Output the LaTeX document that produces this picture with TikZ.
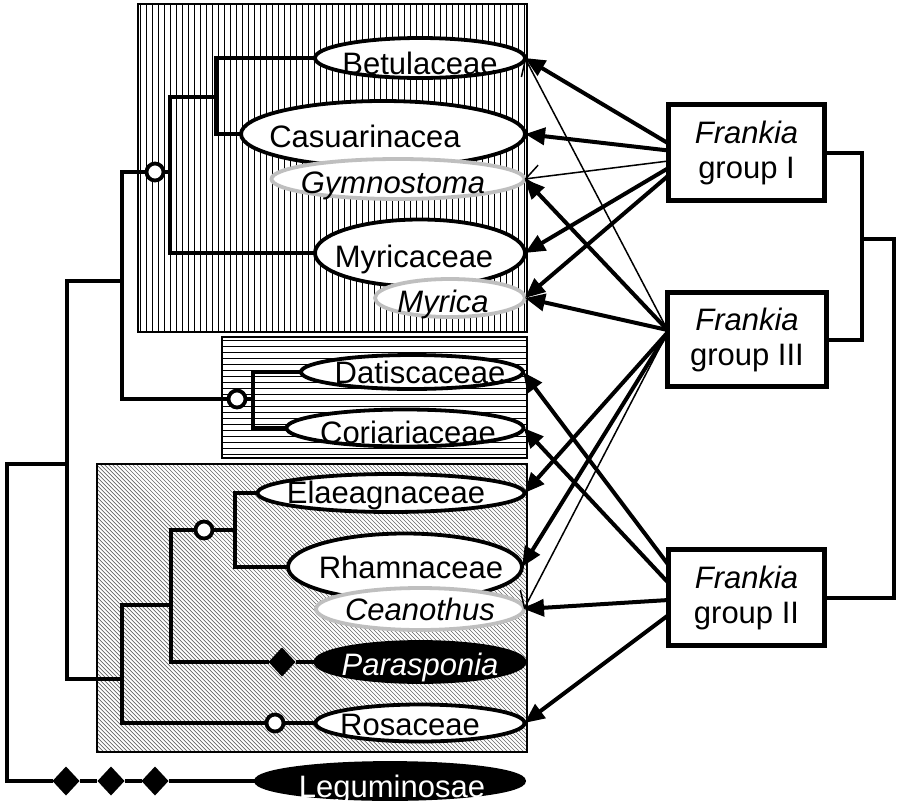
\documentclass[tikz,border=0pt]{standalone}
\usepackage{fontspec}
\setmainfont{Liberation Sans}
\usetikzlibrary{arrows.meta,shapes.geometric}
\begin{document}
\begin{tikzpicture}[x=1pt,y=-1pt,
  tree/.style={line width=4pt,black},
  fam/.style={ellipse,draw=black,line width=3.8pt,fill=white,inner sep=0pt,outer sep=0pt},
  genus/.style={fam,draw=black!25},
  nfix/.style={fam,fill=black},
  lbl/.style={font=\fontsize{31}{35}\selectfont,inner sep=0pt,anchor=base},
  grp/.style={draw,line width=4.2pt,fill=white,inner sep=0pt,outer sep=0pt,align=center,
    font=\fontsize{31}{35}\selectfont},
  anc/.style={circle,draw,line width=3.8pt,fill=white,minimum size=17pt,inner sep=0pt,outer sep=0pt},
  gain/.style={diamond,fill=black,minimum width=27pt,minimum height=29pt,inner sep=0pt,outer sep=0pt},
  strong/.style={line width=4pt,-{Triangle[length=20pt,width=17pt]}},
  weak/.style={line width=1.5pt,-{Straight Barb[length=14pt,width=24pt,line width=1.5pt]}},
  hatchline/.style={line width=0.9pt,black},
  diagline/.style={line width=0.7pt,black!60},
  panel/.style={line width=1.8pt,black}]
\useasboundingbox (0,0) rectangle (897,806);

% hatched panels
\begin{scope}
  \clip (138,4) rectangle (527,332);
  \foreach \x in {140,146,...,530} \draw[hatchline] (\x,4) -- (\x,332);
\end{scope}
\draw[panel] (138,4) rectangle (527,332);

\begin{scope}
  \clip (222,337) rectangle (527,458);
  \foreach \y in {340,346,...,460} \draw[hatchline] (222,\y) -- (527,\y);
\end{scope}
\draw[panel] (222,337) rectangle (527,458);

\begin{scope}
  \clip (97,464) rectangle (527,752);
  \foreach \x in {-204,-200,...,530} \draw[diagline] (\x,464) -- ({\x+300},764);
\end{scope}
\draw[panel] (97,464) rectangle (527,752);

% taxa
\node[fam,minimum width=210pt,minimum height=40pt] (bet) at (420,58) {};
\node[fam,minimum width=284pt,minimum height=66pt] (cas) at (383,134) {};
\node[genus,minimum width=253pt,minimum height=40pt] (gym) at (398,179) {};
\node[fam,minimum width=210pt,minimum height=67pt] (myr) at (420,253) {};
\node[genus,minimum width=150pt,minimum height=38pt] (myc) at (450,298) {};
\node[fam,minimum width=222pt,minimum height=34pt] (dat) at (412,372) {};
\node[fam,minimum width=237pt,minimum height=37pt] (cor) at (405,428) {};
\node[fam,minimum width=267pt,minimum height=38pt] (ela) at (391,493) {};
\node[fam,minimum width=234pt,minimum height=67pt] (rha) at (405,567) {};
\node[genus,minimum width=208pt,minimum height=42pt] (cea) at (420,609) {};
\node[nfix,minimum width=209pt,minimum height=40pt] (par) at (420,662) {};
\node[fam,minimum width=209pt,minimum height=37pt] (ros) at (420,723) {};
\node[nfix,minimum width=268pt,minimum height=36pt] (leg) at (390,781) {};

\node[lbl] (tbet) at (420,74) {Betulaceae};
\node[lbl] (tcas) at (365,147) {Casuarinacea};
\node[lbl] (tgym) at (393,193) {\itshape Gymnostoma};
\node[lbl] (tmyr) at (414,267) {Myricaceae};
\node[lbl] (tmyc) at (443,312) {\itshape Myrica};
\node[lbl] (tdat) at (420,383) {Datiscaceae};
\node[lbl] (tcor) at (408,443) {Coriariaceae};
\node[lbl] (tela) at (386,503) {Elaeagnaceae};
\node[lbl] (trha) at (411,578) {Rhamnaceae};
\node[lbl] (tcea) at (420,620) {\itshape Ceanothus};
\node[lbl,text=white] (tpar) at (420,675) {\itshape Parasponia};
\node[lbl] (tros) at (410,735) {Rosaceae};
\node[lbl,text=white] (tleg) at (392,797) {Leguminosae};

% tree
\coordinate (j1) at (216,97);
\coordinate (j2) at (170,172);
\coordinate (j3) at (122,281);
\coordinate (j4) at (253,399);
\coordinate (j5) at (67,464);
\coordinate (j6) at (122,679);
\coordinate (j7) at (171,605);
\coordinate (j8) at (235,530);
\coordinate (j9) at (7,464);

\node[anc] (c1) at (155,172) {};
\node[anc] (c2) at (237,399) {};
\node[anc] (c3) at (204,530) {};
\node[anc] (c4) at (275,723) {};
\node[gain] (d0) at (282,662) {};
\node[gain] (d1) at (66,781) {};
\node[gain] (d2) at (111,781) {};
\node[gain] (d3) at (155,781) {};

\draw[tree] (bet.west) -| (j1) |- (cas.west);
\draw[tree] (j1) -| (j2) |- (myr.west);
\draw[tree] (c1) -- (j2);
\draw[tree] (c1.west) -| (j3) |- (c2.west);
\draw[tree] (c2) -- (j4);
\draw[tree] (dat.west) -| (j4) |- (cor.west);
\draw[tree] (j3) -| (j5) |- (j6);
\draw[tree] (j5) -- (j9) |- (d1.west);
\draw[tree] (d1) -- (d2);
\draw[tree] (d2) -- (d3);
\draw[tree] (d3) -- (leg.west);
\draw[tree] (j7) -| (j6) |- (c4.west);
\draw[tree] (c4) -- (ros.west);
\draw[tree] (c3.west) -| (j7) |- (d0.west);
\draw[tree] (d0) -- (par.west);
\draw[tree] (c3) -- (j8);
\draw[tree] (ela.west) -| (j8) |- (rha.west);

% Frankia groups
\node[grp,minimum width=156pt,minimum height=96pt] (g1) at (746.5,152.5) {\itshape Frankia\\group I};
\node[grp,minimum width=159pt,minimum height=94pt] (g3) at (747,339.5) {\itshape Frankia\\group III};
\node[grp,minimum width=156pt,minimum height=96pt] (g2) at (746.5,597.5) {\itshape Frankia\\group II};

\coordinate (b1) at (862,239);
\coordinate (b2) at (894,239);
\draw[tree] (g1.east) -- ++(37,0) |- (g3.east);
\draw[tree] (b1) -- (b2) |- (g2.east);

% host specificity arrows
\draw[strong] ([yshift=9pt]g1.west) -- (bet.east);
\draw[strong] ([yshift=2pt]g1.west) -- (cas.east);
\draw[weak] ([yshift=-8.5pt]g1.west) -- (gym.east);
\draw[strong] ([yshift=-15.5pt]g1.west) -- (myr.east);
\draw[strong] ([yshift=-23pt]g1.west) -- (myc.east);
\draw[weak] ([yshift=9.5pt]g3.west) -- (bet.east);
\draw[strong] ([yshift=9.5pt]g3.west) -- (gym.east);
\draw[strong] ([yshift=9.5pt]g3.west) -- (myc.east);
\draw[strong] ([yshift=7pt]g3.west) -- (ela.east);
\draw[strong] ([yshift=7pt]g3.west) -- (rha.east);
\draw[weak] ([yshift=7pt]g3.west) -- (cea.east);
\draw[strong] ([yshift=32.5pt]g2.west) -- (dat.east);
\draw[strong] ([yshift=14.5pt]g2.west) -- (cor.east);
\draw[strong] ([yshift=-2.5pt]g2.west) -- (cea.east);
\draw[strong] ([yshift=-17.5pt]g2.west) -- (ros.east);
\end{tikzpicture}
\end{document}
